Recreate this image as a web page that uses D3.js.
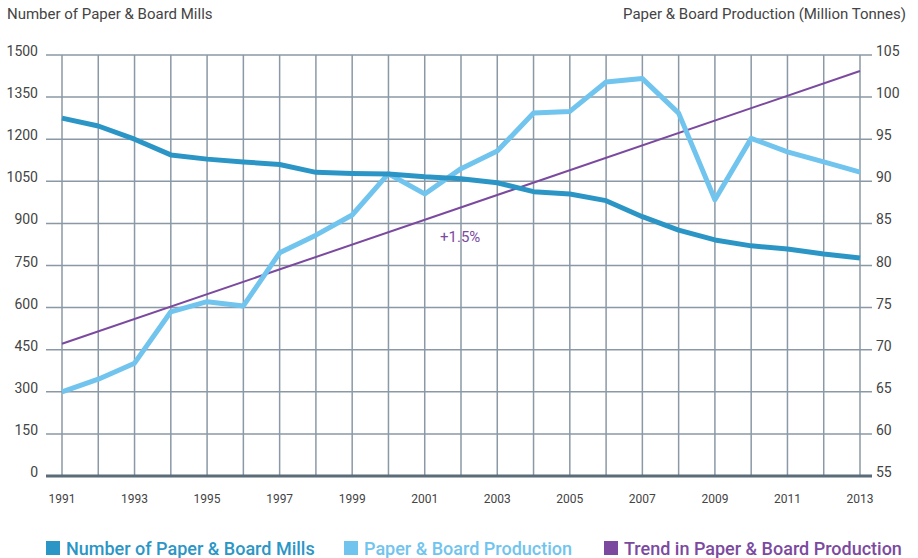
<!DOCTYPE html>
<html>
<head>
<meta charset="utf-8">
<script src="https://cdn.jsdelivr.net/npm/d3@7"></script>
<style>
  body { margin: 0; background: #fff; }
  svg { display: block; font-family: Roboto, "Liberation Sans", sans-serif; }
</style>
</head>
<body>
<svg id="chart" width="918" height="558"></svg>
<script>
// years on the x axis
var years = d3.range(1991, 2014);
var yearLabels = years.filter(y => y % 2 == 1);

// number of paper & board mills (left axis)
var mills = [1275, 1247, 1200, 1144, 1129, 1119, 1110, 1082, 1078, 1076, 1066, 1059,
             1045, 1013, 1005, 981, 924, 876, 841, 820, 809, 791, 777];

// paper & board production, million tonnes (right axis)
var production = [65.0, 66.5, 68.4, 74.5, 75.7, 75.2, 81.5, 83.6, 86.0, 90.9, 88.5, 91.5,
                  93.6, 98.1, 98.3, 101.8, 102.2, 98.1, 87.8, 95.1, 93.5, 92.3, 91.1];

// trend line end points (right axis)
var trendYears = [1991, 2013];
var trendValues = [70.7, 103.1];

var leftTicks = [0, 150, 300, 450, 600, 750, 900, 1050, 1200, 1350, 1500];
var rightTicks = [55, 60, 65, 70, 75, 80, 85, 90, 95, 100, 105];

var legendItems = [
    {label: "Number of Paper & Board Mills", color: "#2b96c6"},
    {label: "Paper & Board Production", color: "#70c4ee"},
    {label: "Trend in Paper & Board Production", color: "#7b4a9f"}
];

var svg = d3.select("#chart");

var x = d3.scaleLinear().domain([1991, 2013]).range([62, 860]);
var yLeft = d3.scaleLinear().domain([0, 1500]).range([476, 55]);
var yRight = d3.scaleLinear().domain([55, 105]).range([476, 55]);

var gridColor = "#8a99a5";

// horizontal grid lines
svg.append("g")
    .selectAll("line")
    .data(leftTicks.slice(1))
    .enter()
    .append("line")
        .attr("x1", 46)
        .attr("x2", 872)
        .attr("y1", d => yLeft(d))
        .attr("y2", d => yLeft(d))
        .attr("stroke", gridColor)
        .attr("stroke-width", 1.5);

// vertical grid lines
svg.append("g")
    .selectAll("line")
    .data(years)
    .enter()
    .append("line")
        .attr("x1", d => x(d))
        .attr("x2", d => x(d))
        .attr("y1", yLeft(1500))
        .attr("y2", yLeft(0))
        .attr("stroke", gridColor)
        .attr("stroke-width", 1.5);

// base line
svg.append("line")
    .attr("x1", 46)
    .attr("x2", 872)
    .attr("y1", yLeft(0))
    .attr("y2", yLeft(0))
    .attr("stroke", "#5b6b77")
    .attr("stroke-width", 3);

// left tick labels
svg.append("g")
    .selectAll("text")
    .data(leftTicks)
    .enter()
    .append("text")
        .attr("x", 38)
        .attr("y", d => yLeft(d) + 1)
        .attr("text-anchor", "end")
        .attr("font-size", 14)
        .attr("fill", "#444")
        .text(d => d);

// right tick labels
svg.append("g")
    .selectAll("text")
    .data(rightTicks)
    .enter()
    .append("text")
        .attr("x", 876)
        .attr("y", d => yRight(d) + 1)
        .attr("font-size", 14)
        .attr("fill", "#444")
        .text(d => d);

// x labels
svg.append("g")
    .selectAll("text")
    .data(yearLabels)
    .enter()
    .append("text")
        .attr("x", d => x(d))
        .attr("y", 503)
        .attr("text-anchor", "middle")
        .attr("font-size", 12)
        .attr("fill", "#444")
        .text(d => d);

// axis titles
svg.append("text")
    .attr("x", 7)
    .attr("y", 19)
    .attr("font-size", 15)
    .attr("fill", "#444")
    .text("Number of Paper & Board Mills");

svg.append("text")
    .attr("x", 906)
    .attr("y", 19)
    .attr("text-anchor", "end")
    .attr("font-size", 15)
    .attr("fill", "#444")
    .text("Paper & Board Production (Million Tonnes)");

// trend line
svg.append("path")
    .datum(trendYears.map((d, i) => [d, trendValues[i]]))
    .attr("fill", "none")
    .attr("stroke", legendItems[2].color)
    .attr("stroke-width", 2)
    .attr("d", d3.line().x(d => x(d[0])).y(d => yRight(d[1])));

svg.append("text")
    .attr("x", 440)
    .attr("y", 242)
    .attr("font-size", 15)
    .attr("fill", legendItems[2].color)
    .text("+1.5%");

// production line
svg.append("path")
    .datum(production)
    .attr("fill", "none")
    .attr("stroke", legendItems[1].color)
    .attr("stroke-width", 5)
    .attr("stroke-linejoin", "round")
    .attr("d", d3.line().x((d, i) => x(years[i])).y(d => yRight(d)));

// mills line
svg.append("path")
    .datum(mills)
    .attr("fill", "none")
    .attr("stroke", legendItems[0].color)
    .attr("stroke-width", 5)
    .attr("stroke-linejoin", "round")
    .attr("d", d3.line().x((d, i) => x(years[i])).y(d => yLeft(d)));

// legend
var legendX = [46, 344, 604];
var legend = svg.append("g")
    .selectAll("g")
    .data(legendItems)
    .enter()
    .append("g")
        .attr("transform", (d, i) => "translate(" + legendX[i] + ",541)");

legend.append("rect")
    .attr("width", 14)
    .attr("height", 14)
    .attr("fill", d => d.color);

legend.append("text")
    .attr("x", 20)
    .attr("y", 14)
    .attr("font-size", 18)
    .attr("font-weight", 500)
    .attr("fill", d => d.color)
    .text(d => d.label);
</script>
</body>
</html>
